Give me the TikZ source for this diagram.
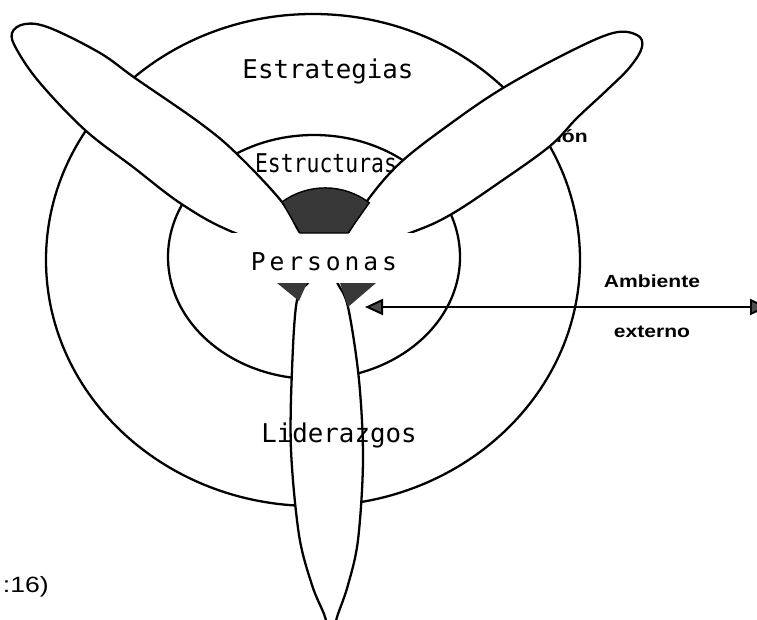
\documentclass[tikz,border=0pt]{standalone}
\usepackage{fontspec}
\newfontfamily\ringfont{DejaVu Sans Mono}
\newfontfamily\ringcondfont[FakeStretch=0.83]{DejaVu Sans Mono}
\newfontfamily\hubfont[LetterSpace=16]{DejaVu Sans Mono}
\newfontfamily\notefont[FakeStretch=1.2]{Liberation Sans}
\usetikzlibrary{arrows.meta}

\begin{document}
\begin{tikzpicture}[x=0.02cm,y=-0.02cm,
  ring/.style={line width=1.3pt},
  petal/.style={draw=black,fill=white,line width=1.3pt,line join=round},
  stipple/.style={fill=black!78,draw=black,line width=0.8pt},
  ringtext/.style={anchor=base,inner sep=0pt,font=\ringfont\fontsize{14.7}{16}\selectfont},
  note/.style={anchor=base,inner sep=0pt,font=\notefont\bfseries\fontsize{10}{12}\selectfont},
  envarrow/.style={line width=1.1pt,>={Triangle[length=0.36cm,width=0.32cm,fill=black!70]}}]

\useasboundingbox (0,0) rectangle (757,619);
\clip (0,0) rectangle (757,619);

% rings
\draw[ring] (313,260) ellipse [x radius=267, y radius=246];
\draw[ring] (314,257) ellipse [x radius=146, y radius=122];
\node[note,anchor=base east] (comunicacion) at (588,142) {ción};

% petals
\draw[petal] plot[smooth cycle,tension=0.6] coordinates {(322,262) (300,233) (282,202) (237,154) (200,123) (135,78) (100,53) (50,28) (25,24) (12,33) (17,50) (40,83) (85,130) (133,167) (183,205) (235,233)};
\draw[petal] plot[smooth cycle,tension=0.6] coordinates {(326,262) (348,233) (367,201) (400,163) (450,124) (503,88) (567,53) (613,33) (637,35) (642,47) (630,67) (607,90) (577,118) (550,146) (500,182) (450,215) (410,233)};
\draw[petal] plot[smooth cycle,tension=0.55] coordinates {(323,252) (337,282) (348,307) (359,380) (363,460) (358,540) (348,585) (338,614) (331,634) (324,614) (312,585) (299,535) (291,450) (292,370) (297,300) (310,280)};

% hub
\fill[white] (228,233) rectangle (418,283);
\filldraw[stipple] (300,233) -- (282,202) arc[start angle=-126.2,end angle=-52.8,radius=73] -- (348,233) -- cycle;
\fill[black!78] (277,283) -- (307,283) -- (299,301) -- cycle;
\fill[black!78] (340,283) -- (376,283) -- (348,307) -- cycle;

\node[ringtext] (estrategias) at (328,78) {Estrategias};
\node[ringtext,font=\ringcondfont\fontsize{14.7}{16}\selectfont] (estructuras) at (326,172) {Estructuras};
\node[ringtext,font=\hubfont\fontsize{14}{16}\selectfont] (personas) at (324,270) {Personas};
\node[ringtext] (liderazgos) at (339,442) {Liderazgos};

% ambiente externo
\node[note] (ambiente) at (652,287) {Ambiente};
\node[note] (externo) at (652,337) {externo};
\coordinate (envw) at (365,307);
\coordinate (enve) at (768,307);
\draw[envarrow,<->] (envw) -- (enve);

\node[anchor=base east,inner sep=0pt,font=\notefont\fontsize{12.6}{14}\selectfont] (cita) at (49,592) {:16)};
\end{tikzpicture}
\end{document}
